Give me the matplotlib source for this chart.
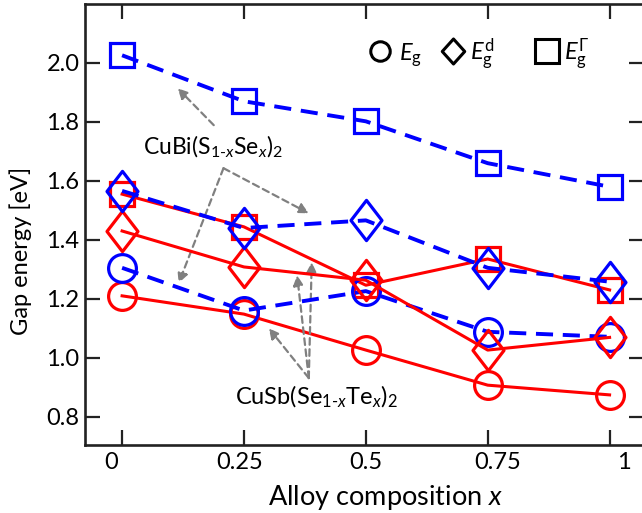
import matplotlib
matplotlib.use("Agg")
import matplotlib.pyplot as plt
from matplotlib.path import Path
import matplotlib.transforms as mtrans

plt.rcParams['font.family'] = ['Lato', 'DejaVu Sans']
plt.rcParams['mathtext.fontset'] = 'custom'
plt.rcParams['mathtext.rm'] = 'Lato'
plt.rcParams['mathtext.it'] = 'Lato:italic'
plt.rcParams['mathtext.bf'] = 'Lato:bold'

# ---- data ----
x = [0, 0.25, 0.5, 0.75, 1.0]
xtick_labels = ['0', '0.25', '0.5', '0.75', '1']
yticks = [0.8, 1.0, 1.2, 1.4, 1.6, 1.8, 2.0]

cubi_eg = [1.305, 1.160, 1.226, 1.088, 1.071]
cubi_ed = [1.566, 1.440, 1.466, 1.305, 1.258]
cubi_eG = [2.026, 1.870, 1.802, 1.660, 1.580]

cusb_eg = [1.210, 1.148, 1.026, 0.907, 0.874]
cusb_ed = [1.430, 1.308, 1.263, 1.026, 1.069]
cusb_eG = [1.555, 1.444, 1.246, 1.335, 1.230]

legend_labels = [r'$E_\mathrm{g}$', r'$E_\mathrm{g}^\mathrm{d}$', r'$E_\mathrm{g}^\Gamma$']

RED = '#ff0000'
BLUE = '#0000ff'
GRAY = '#808080'

def make_diamond(r):
    return Path([(0, 1), (r, 0), (0, -1), (-r, 0), (0, 1)],
                [Path.MOVETO, Path.LINETO, Path.LINETO, Path.LINETO, Path.CLOSEPOLY])

diamond = make_diamond(0.77)
diamond_leg = make_diamond(0.9)

fig = plt.figure(figsize=(6.42, 5.13), dpi=100)
ax = fig.add_axes([85/642, 68/513, 559/642, 441/513])

msz = {'o': 20, 's': 17, diamond: 29}
mew = 2.3

def red(vals, m, z):
    ax.plot(x, vals, color=RED, lw=2.2, ls='-', marker=m, ms=msz[m],
            mfc='none', mec=RED, mew=mew, zorder=z)

def blue(vals, m, z):
    ax.plot(x, vals, color=BLUE, lw=2.8, ls=(0, (4.4, 2.5)), marker=m, ms=msz[m],
            mfc='none', mec=BLUE, mew=mew, zorder=z)

red(cusb_eg, 'o', 2)
red(cusb_eG, 's', 3)
blue(cubi_eg, 'o', 4)
red(cusb_ed, diamond, 5)
blue(cubi_ed, diamond, 6)
blue(cubi_eG, 's', 7)

ax.set_xlim(-0.0761, 1.0706)
ax.set_ylim(0.704, 2.2)
ax.set_xticks(x)
ax.set_xticklabels(xtick_labels)
ax.set_yticks(yticks)
ax.set_yticklabels(['%.1f' % v for v in yticks])

ax.tick_params(direction='in', length=11, width=1.6, color='#222222',
               labelsize=17, top=True, right=True, pad=5)
ax.tick_params(axis='y', pad=4)
for s in ax.spines.values():
    s.set_linewidth(1.9)
    s.set_color('#222222')

# shift x tick labels as in the reference
offs_px = [-11, -4, 0, 10, 14]
for lab, o in zip(ax.get_xticklabels(), offs_px):
    lab.set_transform(lab.get_transform() + mtrans.ScaledTranslation(o/100, 0, fig.dpi_scale_trans))

ax.set_xlabel(r'Alloy composition $x$', fontsize=19.5)
ax.set_ylabel('Gap energy [eV]', fontsize=17)
ax.xaxis.set_label_coords(0.5377, -0.087)
ax.yaxis.set_label_coords(-0.094, 0.440)

# legend (drawn manually in axes coordinates)
leg_markers = ['o', diamond_leg, 's']
leg_ms = [14, 18, 17]
leg_mx = [0.528, 0.659, 0.826]
leg_tx = [0.561, 0.689, 0.857]
for m, s, mx, tx, lab in zip(leg_markers, leg_ms, leg_mx, leg_tx, legend_labels):
    ax.plot([mx], [0.893], transform=ax.transAxes, ls='none', marker=m, ms=s,
            mfc='none', mec='black', mew=2.2, clip_on=False, zorder=10)
    ax.text(tx, 0.873, lab, transform=ax.transAxes, fontsize=17,
            ha='left', va='baseline', zorder=10)

# annotations
aprops = dict(arrowstyle='-|>,head_length=0.6,head_width=0.3', color=GRAY,
              lw=1.6, ls=(0, (3, 2)), shrinkA=0, shrinkB=0)
ax.text(0.186, 1.714, r'CuBi(S$_{1\text{-}x}$Se$_x$)$_2$', fontsize=16.5,
        ha='center', va='center', zorder=10)
ax.annotate('', xy=(0.114, 1.914), xytext=(0.188, 1.789), arrowprops=aprops)
ax.annotate('', xy=(0.116, 1.253), xytext=(0.208, 1.643), arrowprops=aprops)
ax.annotate('', xy=(0.383, 1.490), xytext=(0.208, 1.643), arrowprops=aprops)

ax.text(0.398, 0.867, r'CuSb(Se$_{1\text{-}x}$Te$_x$)$_2$', fontsize=17,
        ha='center', va='center', zorder=10)
ax.annotate('', xy=(0.301, 1.100), xytext=(0.383, 0.931), arrowprops=aprops)
ax.annotate('', xy=(0.359, 1.280), xytext=(0.383, 0.931), arrowprops=aprops)
ax.annotate('', xy=(0.389, 1.324), xytext=(0.383, 0.931), arrowprops=aprops)

fig.savefig('out.png', dpi=100)
